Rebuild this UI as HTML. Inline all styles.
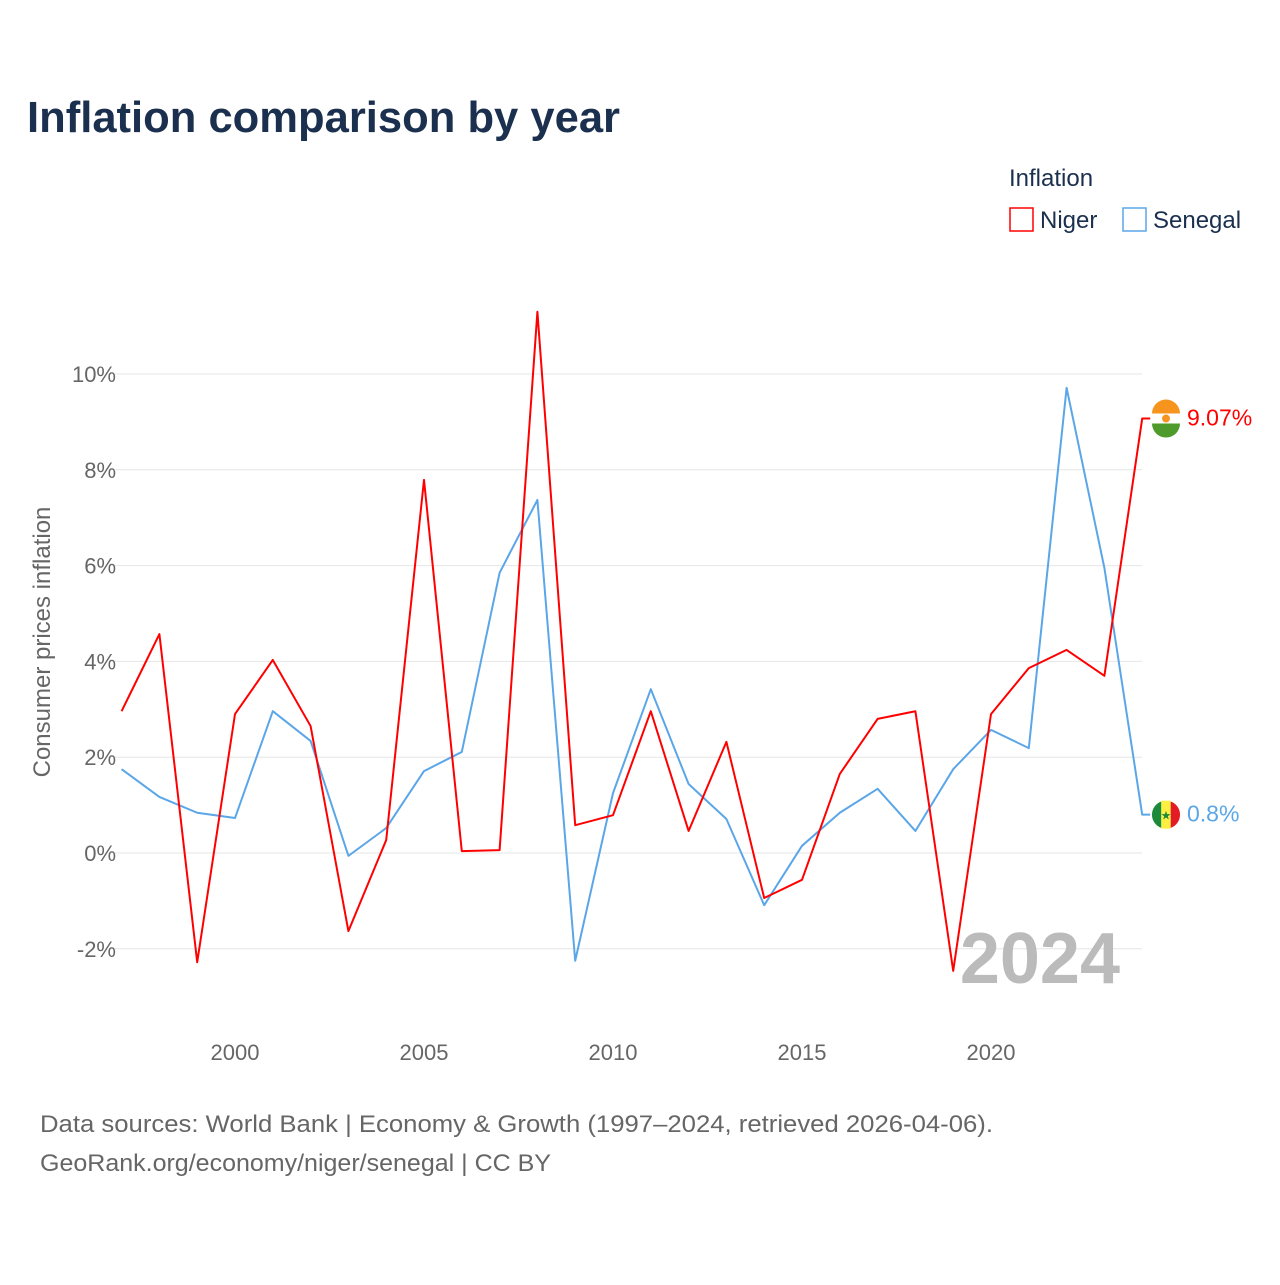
<!DOCTYPE html>
<html><head><meta charset="utf-8"><style>
body{margin:0;background:#fff;font-family:"Liberation Sans",sans-serif;}
</style></head><body>
<svg width="1280" height="1280" xmlns="http://www.w3.org/2000/svg">
<text x="27" y="132" font-size="44" font-weight="bold" fill="#1b2f4e" textLength="593" lengthAdjust="spacingAndGlyphs">Inflation comparison by year</text>
<text x="1009" y="186" font-size="24" fill="#1b2f4e">Inflation</text>
<g><rect x="1010" y="208" width="23" height="23" fill="none" stroke="#f00" stroke-width="1.5"/><text x="1040" y="228" font-size="24" fill="#1b2f4e">Niger</text></g>
<g><rect x="1123" y="208" width="23" height="23" fill="none" stroke="#5aa6e8" stroke-width="1.5"/><text x="1153" y="228" font-size="24" fill="#1b2f4e">Senegal</text></g>
<g id="grid"></g><g id="yt"></g><g id="xt"></g>
<text x="1120" y="983" font-size="72" font-weight="bold" fill="#bbb" text-anchor="end">2024</text>
<g id="lines"></g>
<text transform="translate(50,642) rotate(-90)" font-size="24" fill="#666" text-anchor="middle">Consumer prices inflation</text>
<text x="40" y="1132" font-size="24" fill="#666" textLength="953" lengthAdjust="spacingAndGlyphs">Data sources: World Bank | Economy &amp; Growth (1997–2024, retrieved 2026-04-06).</text>
<text x="40" y="1171" font-size="24" fill="#666" textLength="511" lengthAdjust="spacingAndGlyphs">GeoRank.org/economy/niger/senegal | CC BY</text>
</svg>
<script>
const years=[1997,1998,1999,2000,2001,2002,2003,2004,2005,2006,2007,2008,2009,2010,2011,2012,2013,2014,2015,2016,2017,2018,2019,2020,2021,2022,2023,2024];
const niger=[2.96,4.57,-2.28,2.9,4.03,2.65,-1.63,0.27,7.79,0.04,0.06,11.3,0.58,0.79,2.96,0.46,2.32,-0.94,-0.56,1.65,2.8,2.96,-2.46,2.9,3.86,4.24,3.7,9.07];
const senegal=[1.75,1.17,0.84,0.73,2.96,2.34,-0.06,0.52,1.71,2.11,5.85,7.37,-2.25,1.25,3.42,1.44,0.71,-1.09,0.15,0.84,1.34,0.46,1.75,2.57,2.19,9.71,5.95,0.8];
const yTicks=[-2,0,2,4,6,8,10];
const xTicks=[2000,2005,2010,2015,2020];
const X=y=>235+(y-2000)*37.8, Y=v=>853-v*47.9;
const NS="http://www.w3.org/2000/svg";
function mk(t,a,p){const e=document.createElementNS(NS,t);for(const k in a)e.setAttribute(k,a[k]);p.appendChild(e);return e;}
const g=document.getElementById('grid'),yt=document.getElementById('yt'),xt=document.getElementById('xt'),L=document.getElementById('lines');
yTicks.forEach(v=>{
 const l=mk('line',{x1:115,x2:1142,y1:Y(v),y2:Y(v),stroke:'#e6e6e6','stroke-width':1},g);
 
 
 const t=mk('text',{x:116,y:Y(v)+8,'font-size':22,fill:'#666','text-anchor':'end'},yt);t.textContent=v+'%';
 
 
});
xTicks.forEach(v=>{
 const t=mk('text',{x:X(v),y:1060,'font-size':22,fill:'#666','text-anchor':'middle'},xt);t.textContent=v;
 
 
});
function line(d,c,name){
 let pts=years.map((y,i)=>X(y)+','+Y(d[i]));
 pts.push((X(2024)+8)+','+Y(d[d.length-1]));
 const p=mk('polyline',{points:pts.join(' '),fill:'none',stroke:c,'stroke-width':2,'stroke-linejoin':'round'},L);
 
 
}
line(senegal,'#5aa6e8','series-senegal');
line(niger,'#f00','series-niger');
function endLabel(d,c,name,flag){
 const v=d[d.length-1],y=Y(v);
 const f=mk('g',{},L);
 
 
 const cx=1166;
 if(flag==='ne'){
  mk('circle',{cx,cy:y,r:14,fill:'#fff'},f);
  mk('path',{d:`M${cx-14},${y-5} A14,14 0 0 1 ${cx+14},${y-5} Z`,fill:'#f7941d'},f);
  mk('path',{d:`M${cx-14},${y+5} A14,14 0 0 0 ${cx+14},${y+5} Z`,fill:'#4e9a2a'},f);
  mk('circle',{cx,cy:y,r:4,fill:'#f7941d'},f);
 } else {
  mk('path',{d:`M${cx-4.7},${y-13.2} A14,14 0 0 0 ${cx-4.7},${y+13.2} Z`,fill:'#1b8a3a'},f);
  mk('rect',{x:cx-4.7,y:y-14,width:9.4,height:28,fill:'#fdef42'},f);
  mk('path',{d:`M${cx+4.7},${y-13.2} A14,14 0 0 1 ${cx+4.7},${y+13.2} Z`,fill:'#e31b23'},f);
  mk('text',{x:cx,y:y+5,'font-size':12,fill:'#1b8a3a','text-anchor':'middle'},f).textContent='★';
 }
 const t=mk('text',{x:1187,y:y+7,'font-size':23,fill:c},L);t.textContent=v+'%';
 
 
}
endLabel(niger,'#f00','niger','ne');
endLabel(senegal,'#5aa6e8','senegal','sn');
</script>
</body></html>
